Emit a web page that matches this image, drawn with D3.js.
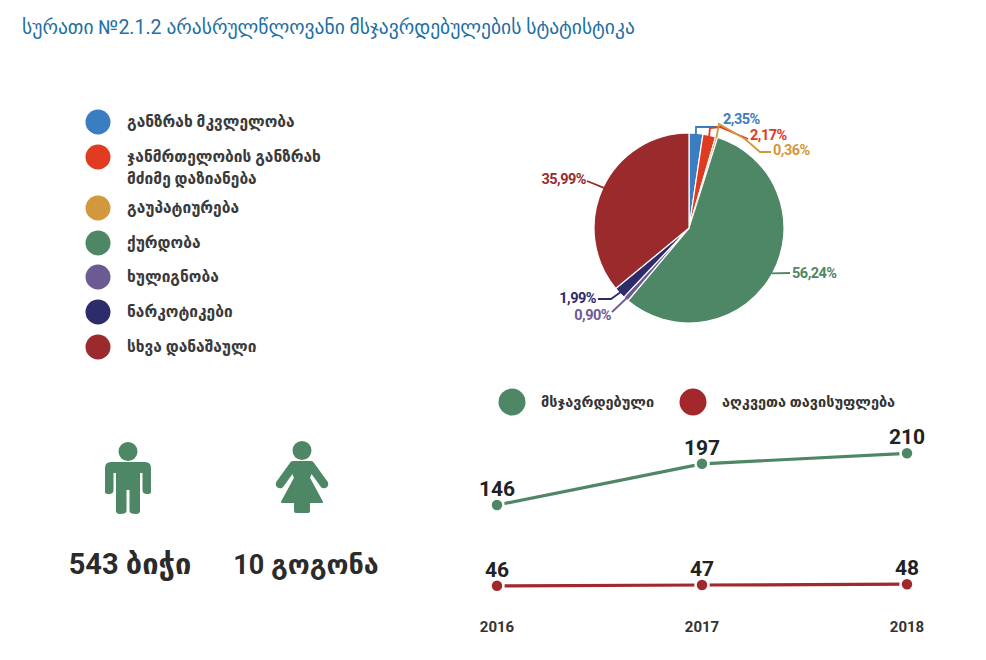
<!DOCTYPE html>
<html>
<head>
<meta charset="utf-8">
<script src="https://cdn.jsdelivr.net/npm/d3@7"></script>
<style>
  body { margin: 0; background: #fff; }
  svg { font-family: Roboto, "DejaVu Sans", sans-serif; }
</style>
</head>
<body>
<div id="chart"></div>
<script>
// pie: crime categories (share of convicted minors, %)
const categories = [
  "განზრახ მკვლელობა",
  "ჯანმრთელობის განზრახ\nმძიმე დაზიანება",
  "გაუპატიურება",
  "ქურდობა",
  "ხულიგნობა",
  "ნარკოტიკები",
  "სხვა დანაშაული"
];
const shares = [2.35, 2.17, 0.36, 56.24, 0.90, 1.99, 35.99];
const shareLabels = ["2,35%", "2,17%", "0,36%", "56,24%", "0,90%", "1,99%", "35,99%"];
const colors = ["#3a7dc0", "#e03a20", "#d3973d", "#4e8766", "#6c5a92", "#2e2b6a", "#9b2a2d"];

// line chart
const years = ["2016", "2017", "2018"];
const convicted = [146, 197, 210];
const deprived = [46, 47, 48];
const seriesNames = ["მსჯავრდებული", "აღკვეთა თავისუფლება"];
const seriesColors = ["#4e8766", "#a2282c"];

// gender
const boys = 543, girls = 10;

const width = 986, height = 660;
const svg = d3.select("#chart").append("svg")
  .attr("width", width)
  .attr("height", height);

svg.append("text")
  .attr("x", 22).attr("y", 34)
  .attr("fill", "#1d6fa5")
  .attr("font-size", 19.5)
  .text("სურათი №2.1.2 არასრულწლოვანი მსჯავრდებულების სტატისტიკა");

// ---- legend for pie
const legend = svg.append("g").attr("transform", "translate(98,0)");
const legendY = [122, 157, 208, 243, 277, 312, 347];
categories.forEach((c, i) => {
  const g = legend.append("g").attr("transform", `translate(0,${legendY[i]})`);
  g.append("circle").attr("r", 12.5).attr("fill", colors[i]);
  const lines = c.split("\n");
  const t = g.append("text")
    .attr("font-size", 15.5)
    .attr("font-weight", "bold")
    .attr("fill", "#3a3a3a");
  lines.forEach((l, j) => {
    t.append("tspan").attr("x", 29).attr("y", 5 + j * 22).text(l);
  });
});

// ---- pie
const cx = 689, cy = 228, r = 95;
const pie = d3.pie().sort(null).value(d => d);
const arcs = pie(shares);
const arc = d3.arc().innerRadius(0).outerRadius(r);
const pg = svg.append("g").attr("transform", `translate(${cx},${cy})`);
pg.selectAll("path.slice")
  .data(arcs)
  .join("path")
    .attr("class", "slice")
    .attr("d", arc)
    .attr("fill", (d, i) => colors[i])
    .attr("stroke", "#fff")
    .attr("stroke-width", 1.2);

// leader elbows and label anchors, relative to the pie centre
const leaders = [
  { pts: [[7, -101], [33, -101]], lx: 34, ly: -104, anchor: "start" },
  { pts: [[21, -100], [31, -101], [59, -89]], lx: 61, ly: -88, anchor: "start" },
  { pts: [[30, -104], [56, -89], [71, -76], [82, -76]], lx: 84, ly: -73, anchor: "start" },
  { pts: [[101, 45]], lx: 103, ly: 50, anchor: "start" },
  { pts: [[-77, 84]], lx: -78, ly: 92, anchor: "end" },
  { pts: [[-78, 71], [-91, 71]], lx: -93, ly: 75, anchor: "end" },
  { pts: [[-102, -47]], lx: -103, ly: -44, anchor: "end" }
];
const outer = d3.arc().innerRadius(r - 1).outerRadius(r - 1);
arcs.forEach((a, i) => {
  const start = outer.centroid(a);
  const L = leaders[i];
  pg.append("path")
    .attr("d", d3.line()([start, ...L.pts]))
    .attr("fill", "none")
    .attr("stroke", colors[i])
    .attr("stroke-width", 1.8);
  pg.append("text")
    .attr("x", L.lx).attr("y", L.ly)
    .attr("text-anchor", L.anchor)
    .attr("font-size", 14.5)
    .attr("font-weight", "bold")
    .attr("letter-spacing", -0.5)
    .attr("fill", colors[i])
    .text(shareLabels[i]);
});

// ---- gender icons
const iconColor = "#4e8766";
const male = svg.append("g").attr("transform", "translate(128,0)").attr("fill", iconColor);
male.append("circle").attr("cx", 0).attr("cy", 451.5).attr("r", 9.5);
male.append("path")
  .attr("d", "M-23,492 L-23,468 Q-23,462 -17,462 L17,462 Q23,462 23,468 L23,492 Q23,494 19,494 Q14.5,494 14.5,490 L14.5,473 L12,473 L12,511 Q12,514 8,514 Q1.5,514 1.5,511 L1.5,490 L-1.5,490 L-1.5,511 Q-1.5,514 -8,514 Q-12,514 -12,511 L-12,473 L-14.5,473 L-14.5,490 Q-14.5,494 -19,494 Q-23,494 -23,492 Z");

const female = svg.append("g").attr("transform", "translate(302,0)").attr("fill", iconColor);
female.append("circle").attr("cx", 0).attr("cy", 450.5).attr("r", 9.5);
female.selectAll("line.arm")
  .data([-1, 1])
  .join("line")
    .attr("class", "arm")
    .attr("x1", d => d * 9).attr("y1", 466)
    .attr("x2", d => d * 22).attr("y2", 484)
    .attr("stroke", iconColor).attr("stroke-width", 8.5).attr("stroke-linecap", "round");
female.append("path")
  .attr("d", "M-9,462 L9,462 Q12,462 11,468 L7,478 L20,502 L-20,502 L-7,478 L-11,468 Q-12,462 -9,462 Z")
  .attr("stroke", iconColor).attr("stroke-width", 2).attr("stroke-linejoin", "round");
female.append("rect").attr("x", -8).attr("y", 499).attr("width", 16).attr("height", 14).attr("rx", 2);

svg.append("text")
  .attr("x", 130).attr("y", 574)
  .attr("text-anchor", "middle")
  .attr("font-size", 29).attr("font-weight", "bold").attr("fill", "#2b2b2b")
  .text(`${boys} ბიჭი`);
svg.append("text")
  .attr("x", 306).attr("y", 574)
  .attr("text-anchor", "middle")
  .attr("font-size", 27).attr("font-weight", "bold").attr("fill", "#2b2b2b")
  .text(`${girls} გოგონა`);

// ---- line chart
const x = d3.scalePoint().domain(years).range([497, 907]);
const y = d3.scaleLinear().domain([0, 250]).range([623, 421]);

const lg = svg.append("g");
const legendX = [512, 693];
seriesNames.forEach((n, i) => {
  lg.append("circle").attr("cx", legendX[i]).attr("cy", 402).attr("r", 13.5).attr("fill", seriesColors[i]);
  lg.append("text").attr("x", legendX[i] + 29).attr("y", 407)
    .attr("font-size", 14.5).attr("fill", "#333").attr("font-weight", "bold")
    .text(n);
});

[convicted, deprived].forEach((vals, s) => {
  const pts = years.map((yr, i) => [x(yr), y(vals[i])]);
  svg.append("path")
    .attr("d", d3.line()(pts))
    .attr("fill", "none")
    .attr("stroke", seriesColors[s])
    .attr("stroke-width", 3.2);
  svg.selectAll(null)
    .data(pts)
    .join("circle")
      .attr("cx", d => d[0]).attr("cy", d => d[1])
      .attr("r", 6.5)
      .attr("fill", seriesColors[s])
      .attr("stroke", "#fff").attr("stroke-width", 2.5);
  svg.selectAll(null)
    .data(vals)
    .join("text")
      .attr("x", (d, i) => x(years[i]))
      .attr("y", (d, i) => y(d) - 9)
      .attr("text-anchor", "middle")
      .attr("font-size", 21).attr("font-weight", "bold").attr("fill", "#222")
      .text(d => d);
});

svg.append("g")
  .selectAll("text")
  .data(years)
  .join("text")
    .attr("x", d => x(d))
    .attr("y", 632)
    .attr("text-anchor", "middle")
    .attr("font-size", 15).attr("font-weight", "bold").attr("fill", "#333")
    .text(d => d);
</script>
</body>
</html>
